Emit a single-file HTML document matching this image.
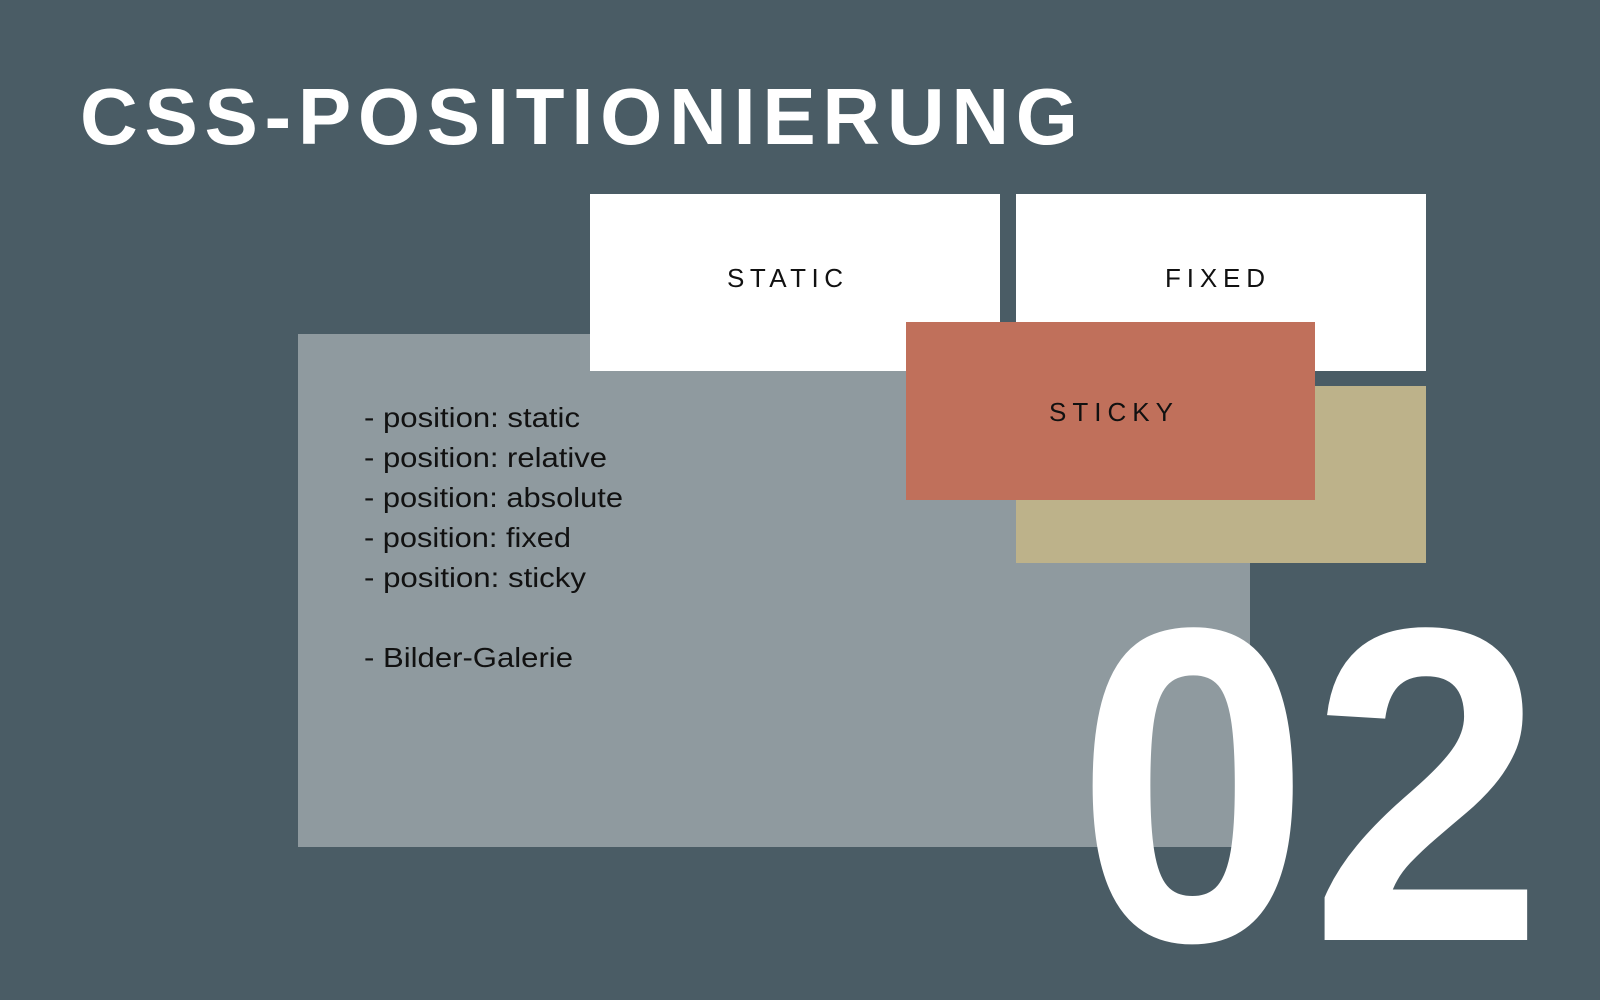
<!DOCTYPE html>
<html><head><meta charset="utf-8"><style>
html,body{margin:0;padding:0;}
body{width:1600px;height:1000px;background:#4a5c65;overflow:hidden;}
svg{display:block}
</style></head><body>
<svg width="1600" height="1000" viewBox="0 0 1600 1000" xmlns="http://www.w3.org/2000/svg" font-family="Liberation Sans, sans-serif">
<rect width="1600" height="1000" fill="#4a5c65"/>
<text x="80" y="144" font-size="80" font-weight="bold" fill="#fff" textLength="998" lengthAdjust="spacing">CSS-POSITIONIERUNG</text>
<rect x="298" y="334" width="952" height="513" fill="#8f9a9f"/>
<rect x="590" y="194" width="410" height="177" fill="#fff"/>
<rect x="1016" y="194" width="410" height="177" fill="#fff"/>
<rect x="1016" y="386" width="410" height="177" fill="#bdb28a"/>
<rect x="906" y="322" width="409" height="178" fill="#c0705b"/>
<text x="727" y="287" font-size="26" fill="#111" textLength="116" lengthAdjust="spacing">STATIC</text>
<text x="1165" y="287" font-size="26" fill="#111" textLength="100" lengthAdjust="spacing">FIXED</text>
<text x="1049" y="421" font-size="26" fill="#111" textLength="124" lengthAdjust="spacing">STICKY</text>
<g font-size="28" fill="#111">
<text x="364" y="427" textLength="216" lengthAdjust="spacingAndGlyphs">- position: static</text>
<text x="364" y="467" textLength="243" lengthAdjust="spacingAndGlyphs">- position: relative</text>
<text x="364" y="507" textLength="259" lengthAdjust="spacingAndGlyphs">- position: absolute</text>
<text x="364" y="547" textLength="207" lengthAdjust="spacingAndGlyphs">- position: fixed</text>
<text x="364" y="587" textLength="222" lengthAdjust="spacingAndGlyphs">- position: sticky</text>
<text x="364" y="667" textLength="209" lengthAdjust="spacingAndGlyphs">- Bilder-Galerie</text>
</g>
<text x="1076" y="940" font-size="448" font-weight="bold" fill="#fff" textLength="468" lengthAdjust="spacingAndGlyphs">02</text>
</svg>
</body></html>
